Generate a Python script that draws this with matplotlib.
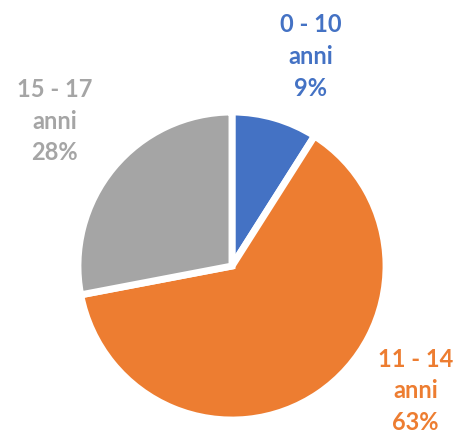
import matplotlib.pyplot as plt

# Data
categories = ['0 - 10\nanni', '11 - 14\nanni', '15 - 17\nanni']
values = [9, 63, 28]
colors = ['#4472C4', '#ED7D31', '#A5A5A5']

# label placement (data units, pie radius = 1)
label_pos = [(0.51, 1.36), (1.19, -0.81), (-1.15, 0.94)]

fig = plt.figure(figsize=(4.68, 4.41), dpi=100)
ax = fig.add_axes([0, 0, 1, 1])

wedges, _ = ax.pie(values, colors=colors, startangle=90, counterclock=False,
                   radius=1.0, wedgeprops=dict(edgecolor='white', linewidth=5))

for w in wedges:
    w.set_joinstyle('miter')

for lab, v, c, (x, y) in zip(categories, values, colors, label_pos):
    ax.text(x, y, f'{lab}\n{v}%', color=c, ha='center', va='center',
            fontsize=17, fontweight='bold', family='Lato', linespacing=1.45)

ax.set_xlim(-1.506, 1.532)
ax.set_ylim(-1.136, 1.727)
ax.set_aspect('auto')
ax.axis('off')

fig.savefig('out.png', dpi=100)
